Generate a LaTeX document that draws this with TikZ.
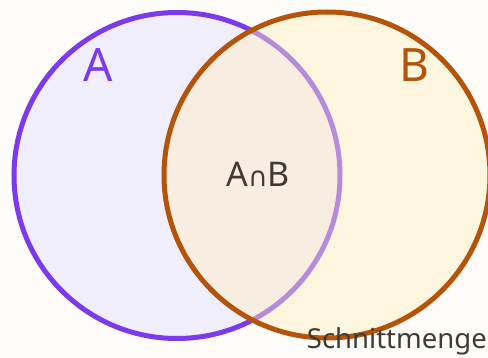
\documentclass[tikz,border=0pt]{standalone}
\usepackage{fontspec}
\setmainfont{Noto Sans}
\newfontfamily\symfont{DejaVu Sans}
\definecolor{bgc}{HTML}{FDFCF9}
\definecolor{violetc}{HTML}{7C3AED}
\definecolor{afill}{HTML}{F1EEFC}
\definecolor{amberc}{HTML}{B45309}
\definecolor{bfill}{HTML}{FFEFC1}
\definecolor{txtc}{HTML}{3F3A36}
\tikzset{
  setA/.style={draw=violetc, line width=5pt, fill=afill},
  setB/.style={draw=none, fill=bfill, fill opacity=0.45},
  setBline/.style={draw=amberc, line width=5pt},
  biglabel/.style={font=\fontsize{46}{50}\selectfont, inner sep=0pt},
}
\begin{document}
\begin{tikzpicture}[x=1pt, y=-1pt]
\fill[bgc] (0,0) rectangle (488,358);
\useasboundingbox (0,0) rectangle (488,358);
\node[setA, circle, minimum size=326pt, inner sep=0pt] (A) at (177,175.5) {};
\node[setB, circle, minimum size=326pt, inner sep=0pt] (B) at (327,175) {};
\node[setBline, circle, minimum size=326pt, inner sep=0pt] (Bline) at (327,175) {};
\node[biglabel, text=violetc] (la) at (97.7,65.5) {A};
\node[biglabel, text=amberc] (lb) at (414.7,65.5) {B};
\node[inner sep=0pt, anchor=base, text=txtc, font=\fontsize{34}{36}\selectfont] (ab) at (258.3,186.5) {A{\symfont\fontsize{27}{30}\selectfont ∩}B};
\node[inner sep=0pt, anchor=base east, text=txtc, font=\fontsize{27.5}{30}\selectfont] (sm) at (487,348.3) {Schnittmenge};
\end{tikzpicture}
\end{document}
